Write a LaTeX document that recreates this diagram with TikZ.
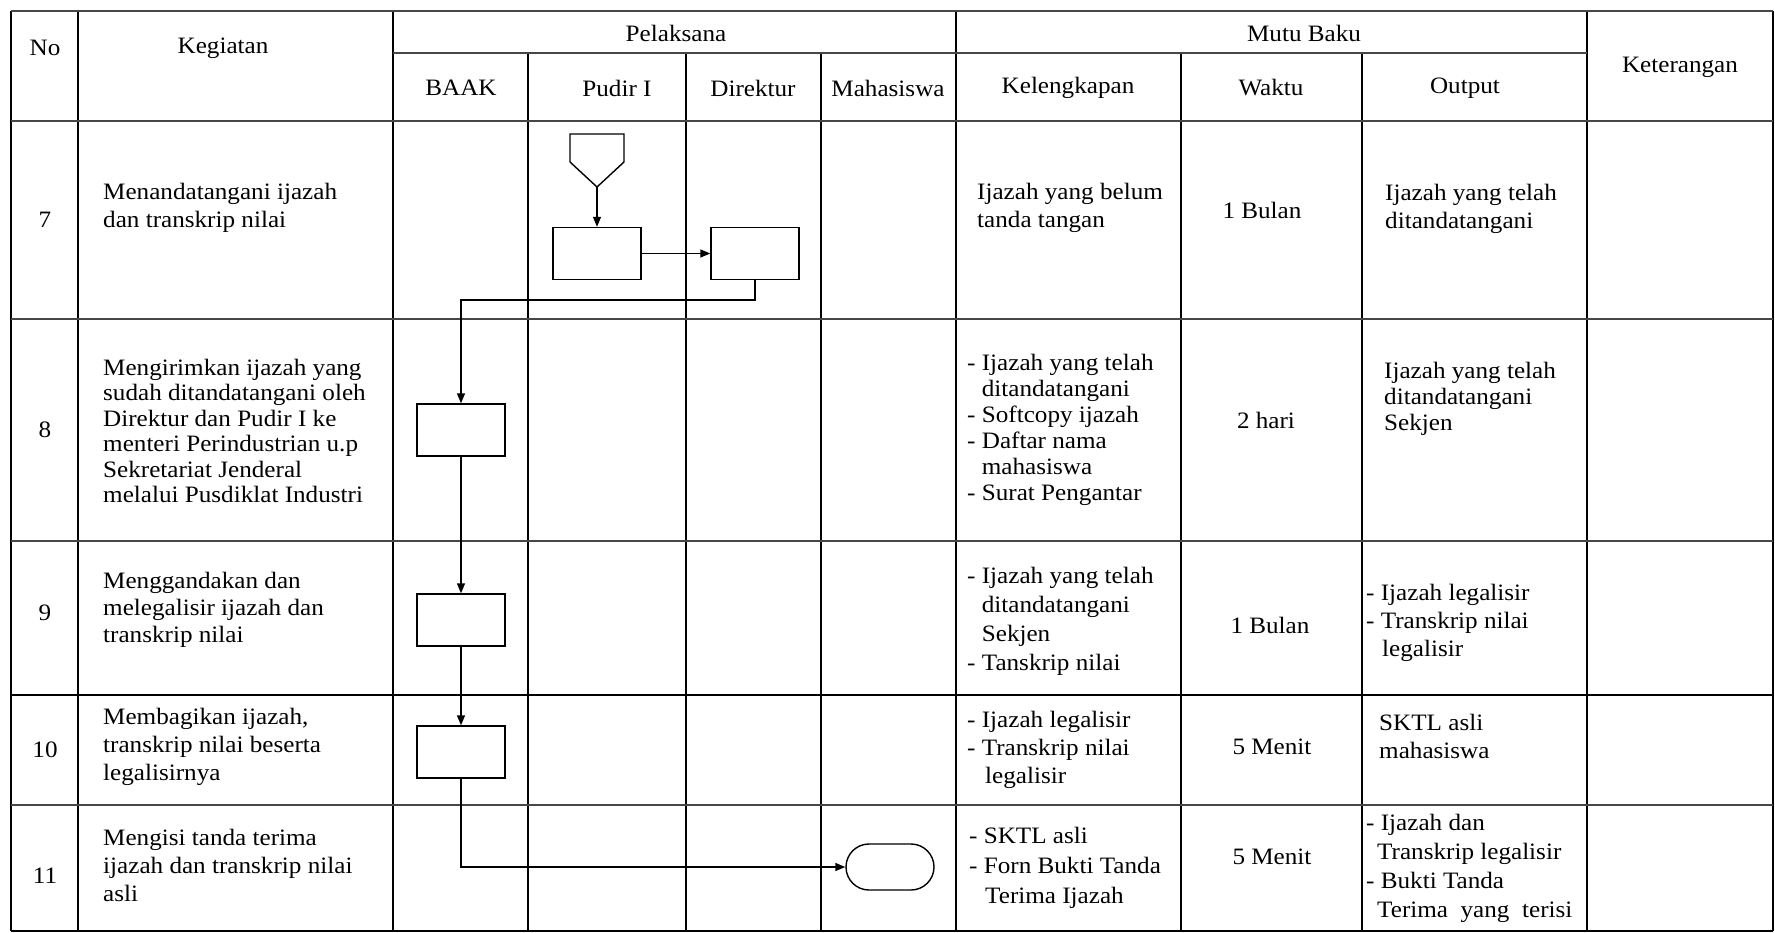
\documentclass[tikz,border=0pt]{standalone}
\usepackage{fontspec}
\setmainfont{Liberation Serif}[FakeStretch=1.07]
\usetikzlibrary{arrows.meta,shapes.misc}
\begin{document}
\begin{tikzpicture}[x=1pt,y=-1pt,
  txt/.style={inner sep=0pt, align=left, anchor=west, font=\fontsize{23.5}{28}\selectfont},
  ctxt/.style={inner sep=0pt, align=center, anchor=center, font=\fontsize{23.5}{28}\selectfont},
  vgrid/.style={line width=1.4pt},
  hgrid/.style={line width=2.2pt, black!72},
  proc/.style={draw, line width=1.4pt, minimum width=88pt, minimum height=52pt, inner sep=0pt},
  term/.style={draw, rounded rectangle, line width=1.4pt, minimum width=88pt, minimum height=46pt, inner sep=0pt},
  flow/.style={line width=1.4pt, -{Triangle[length=10pt,width=8pt]}},
  link/.style={line width=1.4pt}]
\useasboundingbox (0,0) rectangle (1775,933);
\fill[white] (0,0) rectangle (1775,933);
% ---------- grid ----------
\foreach \x in {11,78,393,956,1587,1773} \draw[vgrid] (\x,11) -- (\x,931);
\foreach \x in {528,686,821,1181,1362} \draw[vgrid] (\x,53) -- (\x,931);
\draw[hgrid] (11,11) -- (1773,11);
\draw[hgrid] (393,53) -- (1587,53);
\foreach \y in {121,319,541,805} \draw[hgrid] (11,\y) -- (1773,\y);
\draw[vgrid] (11,695) -- (1773,695);
\draw[vgrid] (11,931) -- (1773,931);
% ---------- header ----------
\node[ctxt] (hNo) at (45,48) {No};
\node[ctxt] (hKeg) at (223,48) {Kegiatan};
\node[ctxt] (hPel) at (676,33) {Pelaksana};
\node[ctxt] (hMutu) at (1304,33) {Mutu Baku};
\node[ctxt] (hKet) at (1680,67) {Keterangan};
\node[ctxt] (hBAAK) at (461,88) {BAAK};
\node[ctxt] (hPudir) at (617,88) {Pudir I};
\node[ctxt] (hDir) at (753,88) {Direktur};
\node[ctxt] (hMhs) at (888,88) {Mahasiswa};
\node[ctxt] (hKel) at (1068,88) {Kelengkapan};
\node[ctxt] (hWaktu) at (1271,88) {Waktu};
\node[ctxt] (hOut) at (1465,88) {Output};
% ---------- row 7 ----------
\node[ctxt] (n7) at (45,220) {7};
\node[txt] (k7) at (103,208) {Menandatangani ijazah\\dan transkrip nilai};
\node[txt] (l7) at (977,208) {Ijazah yang belum\\tanda tangan};
\node[ctxt] (w7) at (1262,210) {1 Bulan};
\node[txt] (o7) at (1385,209) {Ijazah yang telah\\ditandatangani};
% ---------- row 8 ----------
\node[ctxt] (n8) at (45,430) {8};
\node[txt, font=\fontsize{23.5}{25.5}\selectfont] (k8) at (103,431) {Mengirimkan ijazah yang\\sudah ditandatangani oleh\\Direktur dan Pudir I ke\\menteri Perindustrian u.p\\Sekretariat Jenderal\\melalui Pusdiklat Industri};
\node[txt, font=\fontsize{23.5}{26}\selectfont] (l8) at (967,430) {- Ijazah yang telah\\\hphantom{- }ditandatangani\\- Softcopy ijazah\\- Daftar nama\\\hphantom{- }mahasiswa\\- Surat Pengantar};
\node[ctxt] (w8) at (1266,420) {2 hari};
\node[txt, font=\fontsize{23.5}{26}\selectfont] (o8) at (1384,399) {Ijazah yang telah\\ditandatangani\\Sekjen};
% ---------- row 9 ----------
\node[ctxt] (n9) at (45,613) {9};
\node[txt, font=\fontsize{23.5}{27}\selectfont] (k9) at (103,610) {Menggandakan dan\\melegalisir ijazah dan\\transkrip nilai};
\node[txt, font=\fontsize{23.5}{29}\selectfont] (l9) at (967,621) {- Ijazah yang telah\\\hphantom{- }ditandatangani\\\hphantom{- }Sekjen\\- Tanskrip nilai};
\node[ctxt] (w9) at (1270,625) {1 Bulan};
\node[txt] (o9) at (1366,623) {- Ijazah legalisir\\- Transkrip nilai\\\hspace*{16pt}legalisir};
% ---------- row 10 ----------
\node[ctxt] (n10) at (45,750) {10};
\node[txt] (k10) at (103,747) {Membagikan ijazah,\\transkrip nilai beserta\\legalisirnya};
\node[txt] (l10) at (967,750) {- Ijazah legalisir\\- Transkrip nilai\\\hspace*{18pt}legalisir};
\node[ctxt] (w10) at (1272,747) {5 Menit};
\node[txt] (o10) at (1379,736) {SKTL asli\\mahasiswa};
% ---------- row 11 ----------
\node[ctxt] (n11) at (45,876) {11};
\node[txt] (k11) at (103,865) {Mengisi tanda terima\\ijazah dan transkrip nilai\\asli};
\node[txt, font=\fontsize{23.5}{30}\selectfont] (l11) at (969,868) {- SKTL asli\\- Forn Bukti Tanda\\\hspace*{16pt}Terima Ijazah};
\node[ctxt] (w11) at (1272,857) {5 Menit};
\node[txt, font=\fontsize{23.5}{29}\selectfont] (o11) at (1366,868) {- Ijazah dan\\\hspace*{11pt}Transkrip legalisir\\- Bukti Tanda\\\hspace*{11pt}Terima\ \ yang\ \ terisi};
% ---------- flowchart ----------
\draw[link] (570,134) -- (624,134) -- (624,162) -- (597,187) -- (570,162) -- cycle;
\coordinate (offp) at (597,187);
\node[proc] (A) at (597,253.5) {};
\node[proc] (B) at (755,253.5) {};
\node[proc] (C) at (461,430) {};
\node[proc] (D) at (461,620) {};
\node[proc] (E) at (461,752) {};
\node[term] (T) at (890,867) {};
\draw[flow] (offp) -- (A);
\draw[flow] (A) -- (B);
\draw[flow] (B.south) -- ++(0,20) -| (C.north);
\draw[flow] (C) -- (D);
\draw[flow] (D) -- (E);
\draw[flow] (E.south) |- (T.west);
\end{tikzpicture}
\end{document}
